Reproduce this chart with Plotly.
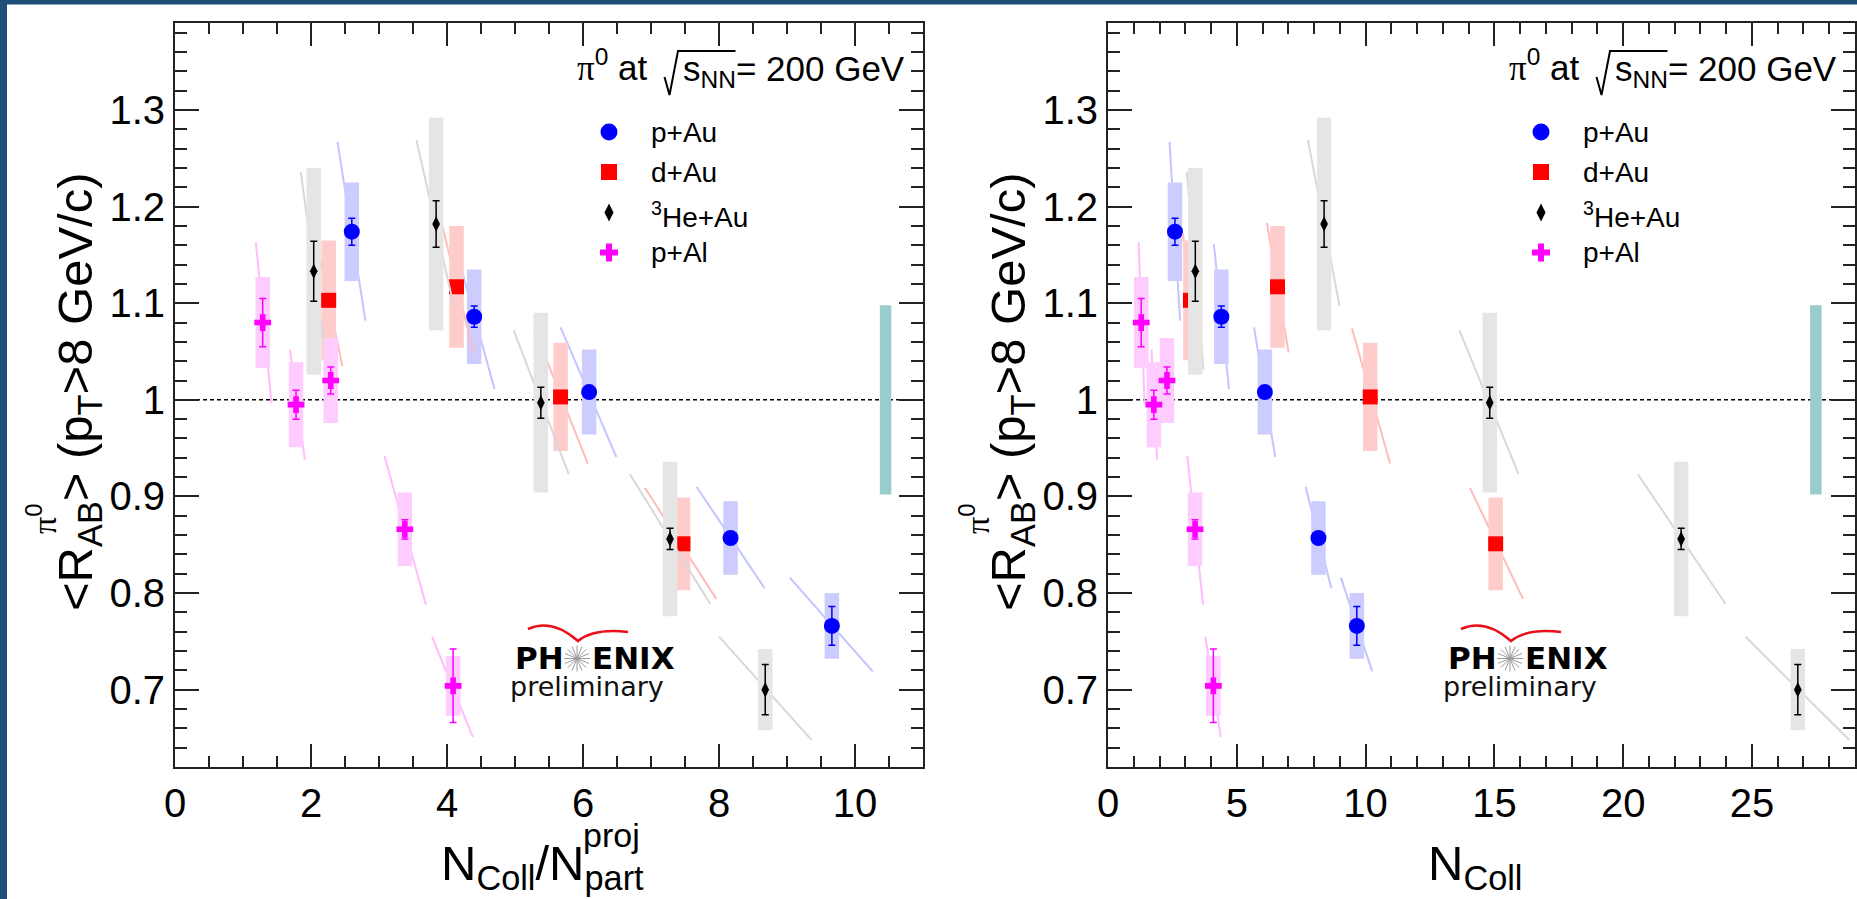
import math
import plotly.graph_objects as go

W, H = 1857, 899

# ---------------- <R_AB> of pi0 at pT > 8 GeV/c ----------------
# p+Au: single-nucleon projectile, so Ncoll/Npart^proj equals Ncoll
pau_x = [2.60, 4.40, 6.09, 8.17, 9.66]
pau_r = [1.174, 1.086, 1.008, 0.857, 0.766]
pau_stat = [0.014, 0.011, 0.006, 0.006, 0.020]
pau_sys = [0.051, 0.049, 0.044, 0.038, 0.034]
# Ncoll-uncertainty segments: (x_low, R_high) -> (x_high, R_low)
pau_seg_x0 = [2.39, 4.11, 5.67, 7.67, 9.04]
pau_seg_x1 = [2.80, 4.70, 6.49, 8.67, 10.26]
pau_seg_r0 = [1.267, 1.161, 1.075, 0.910, 0.816]
pau_seg_r1 = [1.082, 1.011, 0.941, 0.805, 0.719]

# d+Au
dau_ratio = [2.26, 4.14, 5.67, 7.47]
dau_ncoll = [3.20, 6.58, 10.18, 15.05]
dau_r = [1.103, 1.117, 1.003, 0.851]
dau_stat = [0.006, 0.006, 0.006, 0.006]
dau_sys = [0.062, 0.063, 0.056, 0.048]
dau_seg_ratio_x0 = [2.06, 3.92, 5.28, 6.91]
dau_seg_ratio_x1 = [2.46, 4.39, 6.07, 7.96]
dau_seg_ncoll_x0 = [2.91, 6.17, 9.47, 14.05]
dau_seg_ncoll_x1 = [3.49, 7.01, 10.95, 16.11]
dau_seg_r0 = [1.172, 1.183, 1.074, 0.909]
dau_seg_r1 = [1.035, 1.049, 0.934, 0.794]

# 3He+Au
he_ratio = [2.04, 3.84, 5.38, 7.28, 8.68]
he_ncoll = [3.39, 8.39, 14.82, 22.25, 26.78]
he_r = [1.133, 1.182, 0.997, 0.856, 0.700]
he_stat = [0.031, 0.024, 0.016, 0.011, 0.026]
he_sys = [0.107, 0.110, 0.093, 0.080, 0.042]
he_seg_ratio_x0 = [1.85, 3.55, 4.98, 6.69, 8.00]
he_seg_ratio_x1 = [2.24, 4.10, 5.79, 7.87, 9.36]
he_seg_ncoll_x0 = [3.06, 7.76, 13.64, 20.57, 24.74]
he_seg_ncoll_x1 = [3.71, 8.99, 15.94, 23.97, 28.78]
he_seg_r0 = [1.236, 1.269, 1.072, 0.923, 0.755]
he_seg_r1 = [1.031, 1.097, 0.923, 0.789, 0.648]

# p+Al: single-nucleon projectile as well
pal_x = [1.29, 1.78, 2.29, 3.38, 4.09]
pal_r = [1.080, 0.995, 1.020, 0.866, 0.704]
pal_stat = [0.025, 0.015, 0.014, 0.010, 0.038]
pal_sys = [0.047, 0.044, 0.044, 0.038, 0.031]
pal_seg_x0 = [1.19, 1.69, 2.23, 3.08, 3.78]
pal_seg_x1 = [1.42, 1.91, 2.36, 3.69, 4.38]
pal_seg_r0 = [1.163, 1.052, 1.050, 0.942, 0.755]
pal_seg_r1 = [0.996, 0.938, 0.990, 0.788, 0.651]

# global normalisation uncertainty, drawn as a bar around R = 1
norm_unc = 0.098
norm_bar_x_ratio = 10.45
norm_bar_x_ncoll = 27.48

legend_labels = ["p+Au", "d+Au", "<sup>3</sup>He+Au", "p+Al"]

y_range = [0.62, 1.39]
y_tick_vals = [0.7, 0.8, 0.9, 1.0, 1.1, 1.2, 1.3]
y_tick_text = ["0.7", "0.8", "0.9", "1", "1.1", "1.2", "1.3"]
x_ratio_range = [0, 11]
x_ratio_ticks = [0, 2, 4, 6, 8, 10]
x_ratio_text = ["0", "2", "4", "6", "8", "10"]
x_ncoll_range = [0, 29]
x_ncoll_ticks = [0, 5, 10, 15, 20, 25]
x_ncoll_text = ["0", "5", "10", "15", "20", "25"]

# ---------------- styling ----------------
FONT = "Liberation Sans"
SERIF = "Liberation Serif"
FRAME = "#222222"
STY = {
    "pAu": dict(color="#0000ff", box="#ccccff", seg="#c4c4ff", symbol="circle", size=16, lsize=17),
    "dAu": dict(color="#ff0000", box="#ffcccc", seg="#ffbcbc", symbol="square", size=15, lsize=16),
    "He": dict(color="#000000", box="#e5e5e5", seg="#d8d8d8", symbol="diamond-tall", size=11, lsize=13),
    "pAl": dict(color="#ff00ff", box="#ffccff", seg="#ffbcff", symbol="cross", size=14, lsize=15),
}

PLOT_TOP, PLOT_BOT = 23.0, 767.0
panels = [
    dict(xa="x", ya="y", fl=175.0, fr=923.0, rng=x_ratio_range, tv=x_ratio_ticks, tt=x_ratio_text,
         minor=0.5, bar_x=norm_bar_x_ratio,
         systems=[
             ("pAu", pau_x, pau_r, pau_stat, pau_sys, pau_seg_x0, pau_seg_x1, pau_seg_r0, pau_seg_r1),
             ("dAu", dau_ratio, dau_r, dau_stat, dau_sys, dau_seg_ratio_x0, dau_seg_ratio_x1, dau_seg_r0, dau_seg_r1),
             ("He", he_ratio, he_r, he_stat, he_sys, he_seg_ratio_x0, he_seg_ratio_x1, he_seg_r0, he_seg_r1),
             ("pAl", pal_x, pal_r, pal_stat, pal_sys, pal_seg_x0, pal_seg_x1, pal_seg_r0, pal_seg_r1),
         ]),
    dict(xa="x2", ya="y2", fl=1108.0, fr=1855.0, rng=x_ncoll_range, tv=x_ncoll_ticks, tt=x_ncoll_text,
         minor=1, bar_x=norm_bar_x_ncoll,
         systems=[
             ("pAu", pau_x, pau_r, pau_stat, pau_sys, pau_seg_x0, pau_seg_x1, pau_seg_r0, pau_seg_r1),
             ("dAu", dau_ncoll, dau_r, dau_stat, dau_sys, dau_seg_ncoll_x0, dau_seg_ncoll_x1, dau_seg_r0, dau_seg_r1),
             ("He", he_ncoll, he_r, he_stat, he_sys, he_seg_ncoll_x0, he_seg_ncoll_x1, he_seg_r0, he_seg_r1),
             ("pAl", pal_x, pal_r, pal_stat, pal_sys, pal_seg_x0, pal_seg_x1, pal_seg_r0, pal_seg_r1),
         ]),
]

fig = go.Figure()


def segments(x0, r0, x1, r1):
    xs, ys = [], []
    for a, b, c, d in zip(x0, r0, x1, r1):
        xs += [a, c, None]
        ys += [b, d, None]
    return xs, ys


def boxes(x, r, err, half):
    xs, ys = [], []
    for xi, ri, ei in zip(x, r, err):
        xs += [xi - half, xi + half, xi + half, xi - half, xi - half, None]
        ys += [ri - ei, ri - ei, ri + ei, ri + ei, ri - ei, None]
    return xs, ys


for p in panels:
    xa, ya = p["xa"], p["ya"]
    ppu = (p["fr"] - p["fl"]) / (p["rng"][1] - p["rng"][0])
    half_box = 7.25 / ppu
    half_bar = 5.75 / ppu
    for key, x, r, st, sy, sx0, sx1, sr0, sr1 in p["systems"]:
        s = STY[key]
        lx, ly = segments(sx0, sr0, sx1, sr1)
        fig.add_trace(go.Scatter(x=lx, y=ly, mode="lines", line=dict(color=s["seg"], width=2),
                                 xaxis=xa, yaxis=ya, hoverinfo="skip"))
        bx, by = boxes(x, r, sy, half_box)
        fig.add_trace(go.Scatter(x=bx, y=by, mode="none", fill="toself", fillcolor=s["box"],
                                 xaxis=xa, yaxis=ya, hoverinfo="skip"))
        fig.add_trace(go.Scatter(
            x=x, y=r, mode="markers",
            marker=dict(symbol=s["symbol"], size=s["size"], color=s["color"], line=dict(width=0)),
            error_y=dict(type="data", array=st, color=s["color"], thickness=1.5, width=3.5),
            xaxis=xa, yaxis=ya))
    # normalisation bar
    bx, by = boxes([p["bar_x"]], [1.0], [norm_unc], half_bar)
    fig.add_trace(go.Scatter(x=bx, y=by, mode="none", fill="toself", fillcolor="#99cccc",
                             xaxis=xa, yaxis=ya, hoverinfo="skip"))
    # reference line at R = 1
    fig.add_shape(type="line", xref=f"{xa} domain", yref=ya, x0=0, x1=1, y0=1, y1=1,
                  line=dict(color="black", width=1.5, dash="4px,3px"), layer="below")

# ---------------- axes ----------------
def axis(rng, dom, tv, tt, minor_dtick, anchor, major_len, minor_len):
    return dict(range=rng, domain=dom, anchor=anchor, tickmode="array", tickvals=tv, ticktext=tt,
                ticks="inside", ticklen=major_len, tickwidth=2, tickcolor=FRAME,
                showline=True, linewidth=2, linecolor=FRAME, mirror="allticks",
                showgrid=False, zeroline=False, automargin=False,
                tickfont=dict(family=FONT, size=40, color="black"),
                minor=dict(tickmode="linear", tick0=0, dtick=minor_dtick, ticks="inside",
                           ticklen=minor_len, tickwidth=2, tickcolor=FRAME, showgrid=False))


ydom = [1 - PLOT_BOT / H, 1 - PLOT_TOP / H]
layout_axes = {}
for i, p in enumerate(panels):
    sfx = "" if i == 0 else "2"
    xdom = [p["fl"] / W, p["fr"] / W]
    layout_axes["xaxis" + sfx] = axis(p["rng"], xdom, p["tv"], p["tt"], p["minor"], "y" + sfx, 23, 11)
    layout_axes["yaxis" + sfx] = axis(y_range, ydom, y_tick_vals, y_tick_text, 0.02, "x" + sfx, 24, 12)
# full-page pixel canvas for legend glyphs and decorations
layout_axes["xaxis3"] = dict(domain=[0, 1], range=[0, W], visible=False, anchor="y3", fixedrange=True)
layout_axes["yaxis3"] = dict(domain=[0, 1], range=[H, 0], visible=False, anchor="x3", fixedrange=True)


def note(text, x, y, size, xanchor="center", yanchor="middle", angle=0, family=FONT, color="black"):
    fig.add_annotation(text=text, x=x, y=y, xref="x3", yref="y3", showarrow=False,
                       xanchor=xanchor, yanchor=yanchor, textangle=angle, borderpad=0,
                       font=dict(family=family, size=size, color=color))


PI = f"<span style='font-family:{SERIF}'>π</span>"
legend_rows = [132.0, 172.0, 212.5, 252.5]
keys = ["pAu", "dAu", "He", "pAl"]

for p in panels:
    fl, fr = p["fl"], p["fr"]
    # y-axis title
    note("&lt;R<sub>AB</sub>&gt; (p<sub>T</sub>&gt;8 GeV/c)", fl - 97, 392, 49, angle=-90)
    note(PI + "<sup>0</sup>", fl - 134, 519, 34, angle=-90)
    # collision energy header
    sx = fr - 241.5
    note(PI + "<sup>0</sup> at", sx - 33, 89, 35, xanchor="right", yanchor="bottom")
    note("s<sub>NN</sub>= 200 GeV", sx, 94, 35, xanchor="left", yanchor="bottom")
    fig.add_shape(type="path", xref="x3", yref="y3",
                  path=f"M {sx-17},{77} L {sx-12},{95} L {sx-3.5},{51} L {sx+54},{51}",
                  line=dict(color="black", width=2))
    # legend
    mx, tx = fr - 314, fr - 273
    for k, lab, yy in zip(keys, legend_labels, legend_rows):
        s = STY[k]
        fig.add_trace(go.Scatter(x=[mx], y=[yy], mode="markers", xaxis="x3", yaxis="y3",
                                 marker=dict(symbol=s["symbol"], size=s["lsize"], color=s["color"],
                                             line=dict(width=0)), hoverinfo="skip"))
        note(lab, tx, yy + (2 if "sup" in lab else 0), 28, xanchor="left")
    # PHENIX preliminary mark
    ax = fl + 337
    cx, cy = ax + 65, 658.5
    note("<b>PH</b>", cx - 12.5, 677, 31, xanchor="right", yanchor="bottom", family="DejaVu Sans")
    note("<b>ENIX</b>", cx + 13.5, 677, 31, xanchor="left", yanchor="bottom", family="DejaVu Sans")
    note("preliminary", ax - 3, 703, 27, xanchor="left", yanchor="bottom", family="DejaVu Sans",
         color="#111111")
    for k in range(8):
        a = math.pi * k / 8
        dx, dy = 13 * math.cos(a), 13 * math.sin(a)
        fig.add_shape(type="line", xref="x3", yref="y3", x0=cx - dx, y0=cy - dy, x1=cx + dx, y1=cy + dy,
                      line=dict(color="#9a9a9a", width=1))
    fig.add_shape(type="path", xref="x3", yref="y3",
                  path=f"M {ax+16},629 Q {ax+40},618 {ax+66},641 Q {ax+82},628 {ax+116},632",
                  line=dict(color="#e8101a", width=2.5))

# x-axis titles
note("N<sub>Coll</sub>/N<sub>part</sub>", 542, 866.5, 49)
note("proj", 611, 835, 34)
note("N<sub>Coll</sub>", 1475, 866.5, 49)

# page frame bands
fig.add_shape(type="rect", xref="paper", yref="paper", x0=0, x1=1, y0=1 - 4.5 / H, y1=1,
              fillcolor="#1f4e79", line=dict(width=0), layer="below")
fig.add_shape(type="rect", xref="paper", yref="paper", x0=0, x1=7 / W, y0=0, y1=1,
              fillcolor="#1f4e79", line=dict(width=0), layer="below")

fig.update_layout(width=W, height=H, margin=dict(l=0, r=0, t=0, b=0), template="none",
                  paper_bgcolor="white", plot_bgcolor="rgba(0,0,0,0)", showlegend=False,
                  font=dict(family=FONT, color="black"), **layout_axes)

fig.write_html("out.html")
